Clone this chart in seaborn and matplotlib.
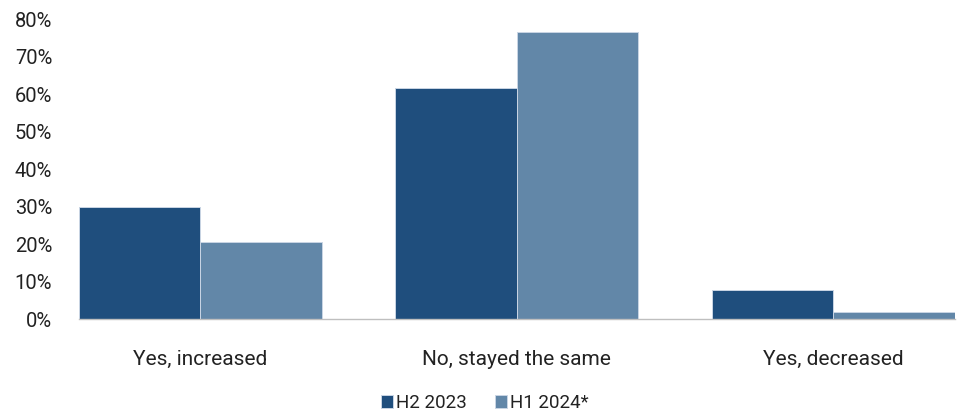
import matplotlib
matplotlib.use("Agg")
import matplotlib.pyplot as plt
import seaborn as sns
import pandas as pd

# Survey responses by period
categories = ["Yes, increased", "No, stayed the same", "Yes, decreased"]
periods = ["H2 2023", "H1 2024*"]
h2_2023 = [30.0, 61.6, 7.7]
h1_2024 = [20.5, 76.5, 2.0]
y_ticks = [0, 10, 20, 30, 40, 50, 60, 70, 80]

colors = ["#1F4E7D", "#6287A8"]

df = pd.DataFrame({
    "category": categories * 2,
    "period": [periods[0]] * 3 + [periods[1]] * 3,
    "value": h2_2023 + h1_2024,
})

sns.set_theme(style="white")
plt.rcParams["font.family"] = ["Roboto", "DejaVu Sans"]
plt.rcParams["font.weight"] = "normal"

fig = plt.figure(figsize=(9.62, 4.17), dpi=100)
ax = fig.add_axes([0.0818, 0.2343, 0.9109, 0.7194])

sns.barplot(
    data=df, x="category", y="value", hue="period",
    order=categories, hue_order=periods, palette=colors,
    width=0.768, gap=0, dodge=True, ax=ax,
    edgecolor="#c9d5e4", linewidth=0.7, saturation=1,
)

ax.set_xlim(-0.384, 2.384)
ax.set_ylim(0, 80)
ax.set_yticks(y_ticks)
ax.set_yticklabels([f"{t}%" for t in y_ticks])
ax.set_xlabel("")
ax.set_ylabel("")

for side in ["top", "right", "left"]:
    ax.spines[side].set_visible(False)
ax.spines["bottom"].set_color("#BFBFBF")
ax.spines["bottom"].set_linewidth(1.0)

ax.tick_params(axis="y", length=0, pad=19, labelsize=14.5, colors="#222222")
ax.tick_params(axis="x", length=0, pad=22, labelsize=15, colors="#222222")

handles, labels = ax.get_legend_handles_labels()
if ax.legend_:
    ax.legend_.remove()
fig.legend(
    handles, labels, loc="center", bbox_to_anchor=(0.5036, 0.033),
    ncol=2, frameon=False, fontsize=13.5, handlelength=0.65, handleheight=0.65,
    handletextpad=0.15, columnspacing=1.5, labelcolor="#222222",
)

fig.savefig("out.png", dpi=100)
